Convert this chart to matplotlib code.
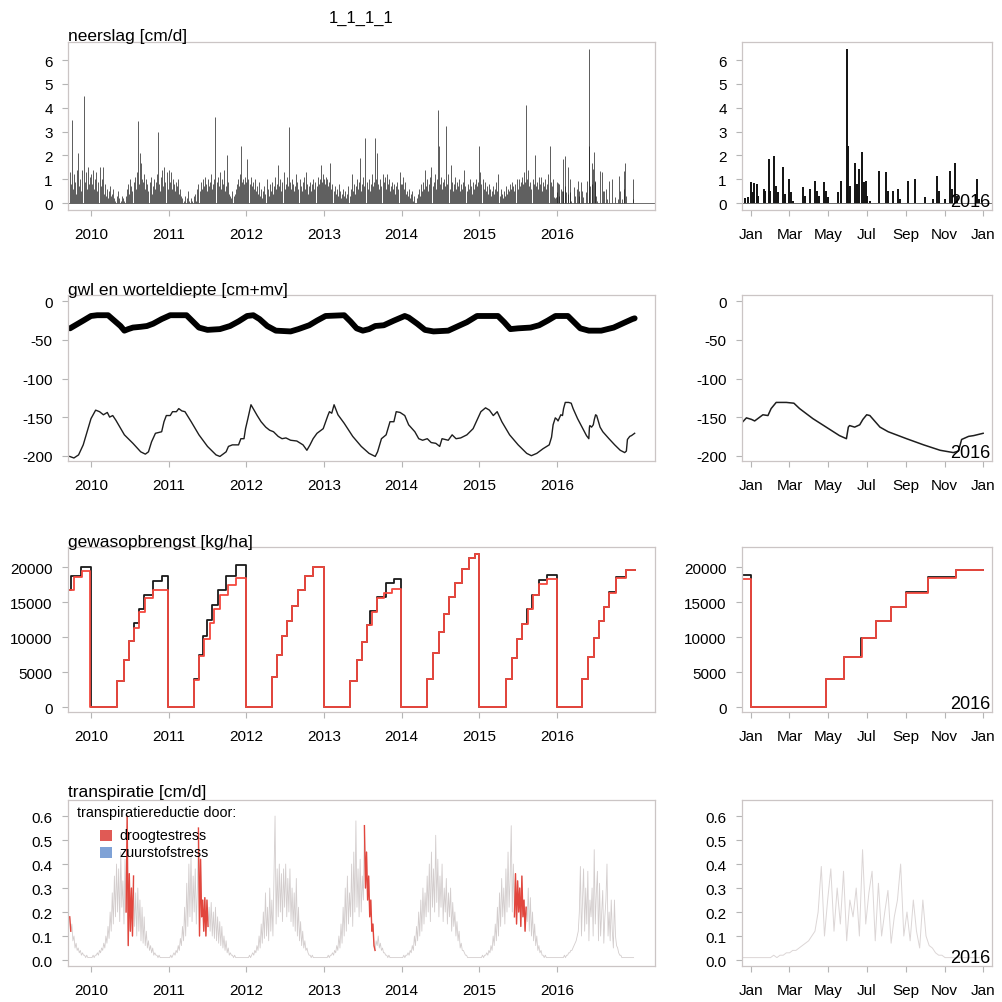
import numpy as np
import matplotlib
matplotlib.use("Agg")
import matplotlib.pyplot as plt
from matplotlib.patches import Rectangle

plt.rcParams['font.family'] = ['Liberation Sans', 'DejaVu Sans']
plt.rcParams['axes.unicode_minus'] = False

# ------------------------------------------------------------------ data
year_ticks = [2010, 2011, 2012, 2013, 2014, 2015, 2016]
month_labels = ['Jan', 'Mar', 'May', 'Jul', 'Sep', 'Nov', 'Jan']
month_doy = [0, 60, 121, 182, 244, 305, 366]

# precipitation [cm/d], 5-day maxima (bin = 5 days from 1 Jan)
rain_2009 = [1.3, 0.8, 3.5, 0.6, 1.2, 0.9, 0.4, 1.4, 2.1, 0.7,
             1.0, 0.5, 1.4, 4.5, 0.9, 1.3, 0.6, 1.5, 0.8, 1.1]   # from bin 53
rain_2010 = [1.2, 0.8, 1.4, 0.6, 1.0, 1.3, 0.5, 0.9, 1.5, 0.7,
             1.0, 1.5, 0.4, 0.8, 0.3, 0.6, 0.2, 0.5, 0.7, 0.3,
             0.4, 0.6, 0.2, 0.1, 0.3, 0.5, 0.2, 0.0, 0.1, 0.3,
             0.2, 0.1, 0.0, 0.3, 0.6, 0.8, 0.4, 1.0, 0.7, 0.5,
             0.9, 1.1, 0.6, 1.3, 3.45, 0.8, 2.1, 1.7, 1.0, 0.9,
             1.2, 0.6, 1.0, 0.8, 0.5, 0.9, 1.1, 0.4, 0.7, 1.0,
             0.6, 0.9, 1.2, 3.0, 0.8, 0.5, 1.1, 1.4, 0.7, 1.5,
             0.9, 1.3, 0.6]
rain_2011 = [1.4, 0.9, 1.3, 0.6, 1.0, 0.8, 0.5, 0.9, 0.7, 1.0,
             0.4, 0.6, 0.3, 0.2, 0.1, 0.3, 0.0, 0.2, 0.5, 0.1,
             0.0, 0.2, 0.1, 0.0, 0.3, 0.4, 0.1, 0.6, 0.8, 0.5,
             0.9, 0.6, 1.0, 0.7, 1.1, 0.8, 0.5, 1.0, 0.7, 0.9,
             1.2, 0.6, 0.8, 1.0, 3.6, 0.9, 1.1, 0.7, 1.3, 0.6,
             1.0, 0.8, 1.4, 0.5, 0.7, 2.0, 0.9, 0.4, 0.3, 0.2,
             0.5, 0.3, 0.4, 0.6, 0.8, 1.0, 0.7, 1.2, 2.4, 0.9,
             1.0, 0.8, 1.1]
rain_2012 = [0.9, 1.85, 1.0, 0.8, 1.1, 0.7, 0.9, 0.6, 1.0, 0.5,
             0.7, 0.4, 0.9, 0.3, 0.6, 0.2, 0.5, 0.7, 0.4, 1.0,
             0.6, 0.3, 0.8, 0.5, 0.9, 0.4, 0.7, 1.1, 0.6, 0.8,
             1.6, 0.7, 1.0, 0.5, 0.9, 1.3, 0.6, 0.8, 1.1, 0.7,
             3.2, 0.9, 0.6, 1.0, 0.8, 0.5, 0.7, 1.2, 0.9, 0.6,
             1.0, 0.7, 0.5, 0.9, 1.1, 0.6, 1.3, 0.8, 0.4, 0.7,
             0.9, 0.5, 0.8, 1.0, 0.6, 0.9, 0.7, 1.1, 0.8, 1.0,
             1.6, 0.9, 1.2]
rain_2013 = [1.0, 0.8, 1.1, 1.0, 0.7, 0.9, 1.7, 0.6, 0.8, 0.5,
             0.7, 0.4, 0.6, 0.3, 0.8, 0.5, 0.2, 0.4, 0.6, 0.3,
             0.5, 0.2, 0.4, 0.7, 0.3, 0.6, 1.2, 0.5, 0.8, 0.4,
             0.7, 1.0, 0.6, 0.9, 1.9, 0.5, 0.8, 1.1, 0.7, 2.75,
             0.9, 0.6, 1.0, 0.5, 0.8, 1.2, 0.7, 0.9, 2.75, 1.0,
             2.1, 0.8, 0.6, 1.0, 0.7, 1.2, 0.9, 1.1, 0.6, 1.2,
             0.8, 1.0, 0.5, 0.7, 0.9, 0.6, 0.8, 0.4, 0.7, 0.9,
             0.6, 1.3, 0.8]
rain_2014 = [0.8, 1.1, 0.6, 0.9, 0.4, 0.5, 0.3, 0.6, 0.2, 0.4,
             0.5, 0.1, 0.3, 0.0, 0.2, 0.4, 0.6, 0.3, 0.8, 0.5,
             0.9, 0.6, 1.4, 0.7, 1.0, 0.5, 0.8, 1.1, 1.5, 0.7,
             0.9, 1.2, 0.6, 1.0, 3.9, 2.4, 0.8, 1.1, 0.6, 0.9,
             1.0, 0.7, 3.25, 0.8, 1.2, 0.6, 1.6, 0.9, 0.5, 0.8,
             1.1, 0.6, 0.9, 0.7, 1.0, 0.5, 0.8, 0.6, 0.9, 1.4,
             0.7, 0.5, 0.8, 0.6, 1.0, 0.7, 0.4, 0.9, 0.6, 0.8,
             1.0, 0.7, 0.9]
rain_2015 = [2.4, 1.3, 0.8, 1.0, 0.6, 0.9, 0.5, 0.7, 0.4, 0.8,
             0.6, 0.3, 0.5, 0.7, 0.4, 0.6, 0.9, 0.5, 1.2, 0.3,
             0.6, 0.4, 0.2, 0.5, 0.3, 0.7, 0.4, 0.6, 0.5, 0.8,
             0.6, 0.9, 0.7, 0.5, 0.8, 1.0, 0.6, 1.0, 0.7, 0.9,
             1.1, 0.8, 1.3, 0.9, 4.1, 1.0, 1.4, 0.7, 0.9, 0.6,
             1.0, 0.8, 2.0, 0.7, 0.9, 0.6, 1.1, 0.8, 1.1, 0.5,
             0.9, 0.7, 1.0, 0.6, 0.8, 1.2, 2.4, 0.9, 0.7, 1.0,
             0.25, 0.2, 0.25]
# 2016 daily rain events (day of year, cm/d)
rain16_day = [0, 2, 4, 8, 11, 19, 22, 27, 29, 36, 38, 42, 50, 53, 60, 62, 65,
              81, 84, 92, 100, 103, 106, 114, 117, 121, 137, 142, 151, 153,
              155, 163, 166, 170, 174, 177, 181, 183, 187, 202, 213, 215, 223,
              232, 235, 247, 258, 274, 286, 293, 296, 305, 314, 317, 322, 325,
              356, 359]
rain16_val = [0.87, 0.45, 0.84, 0.8, 0.3, 0.6, 0.5, 1.85, 0.5, 1.99, 0.73,
              0.45, 1.5, 0.38, 1.03, 0.45, 0.1, 0.66, 0.3, 0.6, 0.94, 0.5, 0.3,
              0.87, 0.5, 0.24, 0.45, 0.94, 6.46, 2.4, 0.73, 1.7, 0.8, 1.43,
              2.13, 0.87, 0.94, 0.3, 0.1, 1.36, 1.31, 0.5, 0.52, 0.59, 0.17,
              0.94, 1.0, 0.24, 0.17, 1.15, 0.52, 0.17, 1.36, 0.59, 1.7, 0.3,
              1.0, 0.17]

# groundwater level [cm+mv] (decimal year, value)
gwl_points = [
    (2009.726, -201), (2009.78, -203), (2009.84, -199), (2009.90, -186),
    (2009.95, -169), (2010.00, -152), (2010.06, -141), (2010.11, -143),
    (2010.16, -147), (2010.21, -144), (2010.24, -150), (2010.28, -148),
    (2010.32, -154), (2010.43, -173), (2010.54, -184), (2010.64, -195),
    (2010.70, -198), (2010.74, -195), (2010.78, -182), (2010.83, -171),
    (2010.91, -169), (2010.94, -156), (2010.97, -148), (2011.02, -148),
    (2011.05, -143), (2011.10, -143), (2011.13, -139), (2011.17, -142),
    (2011.21, -143), (2011.29, -156), (2011.39, -173), (2011.50, -188),
    (2011.61, -199), (2011.66, -201), (2011.74, -195), (2011.77, -188),
    (2011.82, -186), (2011.90, -186), (2011.93, -178), (2011.97, -178),
    (2011.99, -165), (2012.02, -152), (2012.06, -134), (2012.10, -141),
    (2012.14, -148), (2012.19, -156), (2012.25, -163), (2012.30, -167),
    (2012.35, -169), (2012.41, -175), (2012.46, -178), (2012.51, -177),
    (2012.57, -180), (2012.65, -181), (2012.73, -186), (2012.78, -193),
    (2012.82, -186), (2012.86, -178), (2012.91, -171), (2012.99, -165),
    (2013.05, -148), (2013.07, -143), (2013.10, -145), (2013.13, -134),
    (2013.18, -147), (2013.26, -158), (2013.37, -175), (2013.48, -188),
    (2013.58, -197), (2013.66, -201), (2013.69, -195), (2013.74, -178),
    (2013.80, -173), (2013.85, -156), (2013.90, -156), (2013.93, -143),
    (2013.98, -144), (2014.04, -148), (2014.09, -160), (2014.17, -169),
    (2014.22, -178), (2014.27, -180), (2014.33, -178), (2014.38, -183),
    (2014.44, -184), (2014.49, -188), (2014.52, -178), (2014.60, -180),
    (2014.65, -173), (2014.70, -178), (2014.76, -177), (2014.84, -173),
    (2014.92, -165), (2014.97, -154), (2015.02, -143), (2015.08, -138),
    (2015.13, -141), (2015.18, -148), (2015.23, -143), (2015.29, -156),
    (2015.39, -173), (2015.50, -186), (2015.61, -197), (2015.67, -200),
    (2015.74, -197), (2015.82, -191), (2015.90, -186), (2015.93, -176),
    (2015.95, -160),
]
# 2016 groundwater level (day of year, value)
gwl16_points = [
    (-8, -151), (0, -153), (5, -155), (18, -147), (26, -148), (31, -139),
    (39, -131), (55, -131), (67, -132), (76, -139), (97, -152), (118, -163),
    (139, -174), (150, -178), (153, -163), (155, -161), (163, -163),
    (171, -160), (176, -153), (182, -147), (187, -148), (203, -163),
    (216, -169), (245, -178), (272, -186), (298, -193), (319, -196),
    (327, -194), (332, -179), (343, -175), (351, -174), (366, -171),
]
# root depth [cm+mv] (decimal year, value)
root_points = [
    (2009.73, -35), (2009.90, -25), (2010.00, -19), (2010.08, -18),
    (2010.22, -18), (2010.30, -25), (2010.38, -32), (2010.43, -38),
    (2010.48, -36), (2010.54, -34), (2010.64, -33), (2010.72, -32),
    (2010.80, -29), (2010.91, -23), (2011.02, -18), (2011.23, -18),
    (2011.31, -26), (2011.39, -34), (2011.50, -37), (2011.66, -36),
    (2011.79, -32), (2011.90, -26), (2012.01, -19), (2012.09, -18),
    (2012.17, -23), (2012.27, -32), (2012.38, -38), (2012.57, -39),
    (2012.67, -36), (2012.81, -31), (2012.91, -25), (2013.02, -19),
    (2013.26, -18), (2013.34, -26), (2013.42, -35), (2013.50, -38),
    (2013.58, -36), (2013.66, -32), (2013.77, -31), (2013.90, -25),
    (2014.04, -19), (2014.09, -21), (2014.20, -29), (2014.30, -37),
    (2014.41, -39), (2014.60, -38), (2014.73, -32), (2014.84, -27),
    (2014.97, -19), (2015.24, -19), (2015.32, -27), (2015.40, -36),
    (2015.50, -35), (2015.66, -34), (2015.77, -31), (2015.88, -25),
    (2015.98, -19), (2016.14, -19), (2016.22, -27), (2016.30, -35),
    (2016.41, -38), (2016.57, -38), (2016.73, -34), (2016.86, -28),
    (2016.97, -23), (2017.00, -22),
]

# crop yield [kg/ha] step series (decimal year, value from that moment)
yield_pot = [
    (2009.726, 16700), (2009.747, 18800), (2009.870, 20100), (2010.000, 0),
    (2010.340, 3800), (2010.420, 6800), (2010.484, 9500), (2010.553, 12100),
    (2010.618, 14100), (2010.687, 16000), (2010.804, 18100), (2010.911, 18700),
    (2010.991, 0),
    (2011.328, 4000), (2011.392, 7500), (2011.446, 10200), (2011.499, 12500),
    (2011.553, 14600), (2011.633, 16700), (2011.739, 18800), (2011.873, 20400),
    (2011.990, 0),
    (2012.327, 4300), (2012.396, 7500), (2012.460, 10200), (2012.530, 12400),
    (2012.594, 14500), (2012.663, 16700), (2012.754, 18700), (2012.861, 20100),
    (2012.994, 0),
    (2013.341, 3700), (2013.421, 6800), (2013.490, 9400), (2013.554, 11700),
    (2013.597, 13700), (2013.688, 15700), (2013.794, 17700), (2013.901, 18400),
    (2013.997, 0),
    (2014.328, 4000), (2014.408, 7800), (2014.478, 10700), (2014.542, 13400),
    (2014.611, 15700), (2014.691, 17700), (2014.782, 19700), (2014.862, 21400),
    (2014.942, 21900), (2014.996, 0),
    (2015.341, 4000), (2015.421, 7100), (2015.490, 9800), (2015.544, 11900),
    (2015.608, 14100), (2015.672, 16100), (2015.768, 18200), (2015.875, 18900),
    (2016.000, 0),
    (2016.322, 4050), (2016.399, 7250), (2016.473, 9950), (2016.537, 12300),
    (2016.601, 14400), (2016.669, 16450), (2016.760, 18550), (2016.883, 19600),
    (2017.000, 19600),
]
yield_act = [
    (2009.726, 16700), (2009.779, 18600), (2009.886, 19500), (2009.993, 0),
    (2010.340, 3800), (2010.420, 6800), (2010.484, 9500), (2010.553, 11400),
    (2010.618, 13600), (2010.698, 15600), (2010.804, 16700), (2010.991, 0),
    (2011.328, 3900), (2011.392, 7400), (2011.456, 9700), (2011.526, 12000),
    (2011.590, 14000), (2011.659, 16000), (2011.766, 17500), (2011.873, 18500),
    (2011.990, 0),
    (2012.327, 4300), (2012.396, 7500), (2012.460, 10200), (2012.530, 12400),
    (2012.594, 14500), (2012.663, 16700), (2012.754, 18700), (2012.861, 20000),
    (2012.994, 0),
    (2013.341, 3700), (2013.421, 6800), (2013.490, 9400), (2013.554, 11700),
    (2013.624, 13600), (2013.688, 15600), (2013.768, 16400), (2013.874, 16900),
    (2013.997, 0),
    (2014.328, 4000), (2014.408, 7800), (2014.478, 10700), (2014.542, 13400),
    (2014.611, 15700), (2014.691, 17700), (2014.782, 19700), (2014.862, 21400),
    (2014.942, 21900), (2014.996, 0),
    (2015.341, 4000), (2015.421, 7100), (2015.490, 9800), (2015.554, 11900),
    (2015.624, 14000), (2015.688, 16000), (2015.768, 17600), (2015.875, 18400),
    (2015.996, 0),
    (2016.322, 4050), (2016.399, 7250), (2016.475, 9900), (2016.537, 12300),
    (2016.601, 14400), (2016.669, 16400), (2016.760, 18500), (2016.883, 19600),
    (2017.000, 19600),
]

# potential transpiration [cm/d], 5-day values
transp_2009 = [0.18, 0.12, 0.15, 0.08, 0.10, 0.05, 0.07, 0.04, 0.05, 0.03,
               0.04, 0.02, 0.03, 0.02, 0.02, 0.01, 0.02, 0.01, 0.01, 0.01]  # from bin 53
transp_2010 = [0.01, 0.01, 0.02, 0.01, 0.02, 0.02, 0.03, 0.02, 0.04, 0.03,
               0.05, 0.04, 0.07, 0.05, 0.10, 0.07, 0.14, 0.09, 0.20, 0.12,
               0.28, 0.15, 0.35, 0.18, 0.40, 0.20, 0.38, 0.16, 0.45, 0.22,
               0.33, 0.15, 0.42, 0.20, 0.60, 0.06, 0.36, 0.12, 0.30, 0.10,
               0.35, 0.14, 0.28, 0.10, 0.30, 0.12, 0.25, 0.08, 0.22, 0.07,
               0.18, 0.06, 0.12, 0.05, 0.08, 0.04, 0.06, 0.03, 0.05, 0.02,
               0.03, 0.02, 0.02, 0.01, 0.02, 0.01, 0.01, 0.01, 0.01, 0.01,
               0.01, 0.01, 0.01]
transp_2011 = [0.01, 0.01, 0.02, 0.01, 0.02, 0.03, 0.02, 0.04, 0.03, 0.06,
               0.04, 0.09, 0.06, 0.14, 0.08, 0.22, 0.10, 0.32, 0.14, 0.40,
               0.18, 0.44, 0.16, 0.35, 0.20, 0.38, 0.15, 0.30, 0.55, 0.10,
               0.42, 0.18, 0.25, 0.12, 0.26, 0.10, 0.25, 0.14, 0.22, 0.12,
               0.24, 0.10, 0.20, 0.09, 0.22, 0.08, 0.18, 0.07, 0.16, 0.06,
               0.14, 0.05, 0.10, 0.04, 0.08, 0.03, 0.05, 0.02, 0.03, 0.02,
               0.02, 0.01, 0.02, 0.01, 0.01, 0.01, 0.01, 0.01, 0.01, 0.01,
               0.01, 0.01, 0.01]
transp_2012 = [0.01, 0.01, 0.01, 0.02, 0.01, 0.02, 0.03, 0.02, 0.04, 0.03,
               0.06, 0.04, 0.10, 0.05, 0.15, 0.07, 0.20, 0.09, 0.28, 0.10,
               0.22, 0.08, 0.30, 0.12, 0.25, 0.10, 0.35, 0.60, 0.15, 0.38,
               0.18, 0.40, 0.20, 0.36, 0.16, 0.38, 0.22, 0.40, 0.18, 0.34,
               0.20, 0.38, 0.16, 0.30, 0.14, 0.28, 0.12, 0.34, 0.10, 0.22,
               0.08, 0.16, 0.06, 0.12, 0.05, 0.08, 0.04, 0.05, 0.03, 0.02,
               0.02, 0.01, 0.02, 0.01, 0.01, 0.01, 0.01, 0.01, 0.01, 0.01,
               0.01, 0.01, 0.01]
transp_2013 = [0.01, 0.01, 0.01, 0.01, 0.02, 0.01, 0.02, 0.02, 0.03, 0.02,
               0.04, 0.03, 0.06, 0.04, 0.10, 0.05, 0.15, 0.07, 0.22, 0.10,
               0.30, 0.12, 0.35, 0.15, 0.28, 0.18, 0.40, 0.14, 0.45, 0.20,
               0.58, 0.22, 0.38, 0.18, 0.42, 0.20, 0.35, 0.25, 0.56, 0.30,
               0.45, 0.25, 0.35, 0.18, 0.25, 0.12, 0.15, 0.06, 0.04, 0.08,
               0.06, 0.10, 0.05, 0.07, 0.04, 0.05, 0.03, 0.03, 0.02, 0.02,
               0.01, 0.02, 0.01, 0.01, 0.01, 0.01, 0.01, 0.01, 0.01, 0.01,
               0.01, 0.01, 0.01]
transp_2014 = [0.01, 0.01, 0.02, 0.01, 0.02, 0.02, 0.03, 0.02, 0.04, 0.03,
               0.06, 0.04, 0.10, 0.06, 0.14, 0.08, 0.20, 0.10, 0.25, 0.12,
               0.30, 0.15, 0.28, 0.18, 0.35, 0.20, 0.40, 0.16, 0.45, 0.22,
               0.38, 0.20, 0.52, 0.24, 0.42, 0.18, 0.35, 0.22, 0.40, 0.16,
               0.30, 0.20, 0.34, 0.15, 0.28, 0.18, 0.30, 0.12, 0.24, 0.14,
               0.20, 0.10, 0.16, 0.08, 0.12, 0.05, 0.07, 0.04, 0.04, 0.03,
               0.02, 0.02, 0.01, 0.01, 0.01, 0.01, 0.01, 0.01, 0.01, 0.01,
               0.01, 0.01, 0.01]
transp_2015 = [0.01, 0.01, 0.01, 0.02, 0.01, 0.02, 0.02, 0.03, 0.02, 0.04,
               0.03, 0.06, 0.04, 0.10, 0.06, 0.15, 0.08, 0.22, 0.10, 0.28,
               0.14, 0.34, 0.18, 0.30, 0.15, 0.38, 0.20, 0.45, 0.22, 0.35,
               0.56, 0.20, 0.40, 0.18, 0.36, 0.15, 0.33, 0.20, 0.30, 0.14,
               0.35, 0.18, 0.25, 0.12, 0.22, 0.16, 0.30, 0.12, 0.26, 0.10,
               0.20, 0.08, 0.15, 0.06, 0.10, 0.04, 0.06, 0.03, 0.04, 0.02,
               0.02, 0.01, 0.02, 0.01, 0.01, 0.01, 0.01, 0.01, 0.01, 0.01,
               0.01, 0.01, 0.01]
transp_2016 = [0.01, 0.01, 0.01, 0.01, 0.01, 0.01, 0.01, 0.02, 0.01, 0.02,
               0.02, 0.03, 0.03, 0.04, 0.04, 0.05, 0.06, 0.07, 0.08, 0.10,
               0.12, 0.20, 0.39, 0.10, 0.25, 0.38, 0.12, 0.30, 0.15, 0.37,
               0.08, 0.25, 0.18, 0.30, 0.10, 0.46, 0.15, 0.28, 0.37, 0.08,
               0.32, 0.10, 0.20, 0.29, 0.07, 0.18, 0.25, 0.40, 0.10, 0.20,
               0.08, 0.25, 0.12, 0.05, 0.25, 0.10, 0.06, 0.05, 0.03, 0.02,
               0.02, 0.01, 0.01, 0.01, 0.01, 0.01, 0.01, 0.01, 0.01, 0.01,
               0.01, 0.01, 0.01]
# periods with transpiration reduction by drought stress (decimal years)
drought_periods = [(2009.72, 2009.745), (2010.445, 2010.56), (2011.38, 2011.51),
                   (2013.515, 2013.66), (2015.45, 2015.61)]

# ------------------------------------------------------------------ assemble
def five_day(year, values, start_bin=0):
    return year + (start_bin + np.arange(len(values))) * 5.0 / 365.0

rain_t = np.concatenate([five_day(2009, rain_2009, 53)] +
                        [five_day(y, v) for y, v in zip(range(2010, 2016),
                         [rain_2010, rain_2011, rain_2012, rain_2013, rain_2014, rain_2015])] +
                        [2016 + np.array(rain16_day) / 366.0])
rain_v = np.concatenate([rain_2009, rain_2010, rain_2011, rain_2012, rain_2013,
                         rain_2014, rain_2015, rain16_val])

gwl_t = np.array([p[0] for p in gwl_points] + [2016 + d / 366.0 for d, _ in gwl16_points])
gwl_v = np.array([p[1] for p in gwl_points] + [v for _, v in gwl16_points])
root_t = np.array([p[0] for p in root_points])
root_v = np.array([p[1] for p in root_points])
ypot_t = np.array([p[0] for p in yield_pot]); ypot_v = np.array([p[1] for p in yield_pot])
yact_t = np.array([p[0] for p in yield_act]); yact_v = np.array([p[1] for p in yield_act])

tr_t = np.concatenate([five_day(2009, transp_2009, 53)] +
                      [five_day(y, v) for y, v in zip(range(2010, 2017),
                       [transp_2010, transp_2011, transp_2012, transp_2013,
                        transp_2014, transp_2015, transp_2016])])
tr_v = np.concatenate([transp_2009, transp_2010, transp_2011, transp_2012,
                       transp_2013, transp_2014, transp_2015, transp_2016])

# ------------------------------------------------------------------ figure
W, H = 1002, 1003
fig = plt.figure(figsize=(W / 100, H / 100), dpi=100)
fig.patch.set_facecolor('white')

rows_px = [(43, 211), (296, 462), (548, 713), (801, 967)]
left_px = (68, 655)
right_px = (742, 992)

def add_ax(xpx, ypx):
    x0, x1 = xpx
    y0, y1 = ypx
    return fig.add_axes([x0 / W, 1 - y1 / H, (x1 - x0) / W, (y1 - y0) / H])

axL = [add_ax(left_px, r) for r in rows_px]
axR = [add_ax(right_px, r) for r in rows_px]

xlimL = (2009.704, 2017.262)
xlimR = (2016 - 15 / 366.0, 2017 + 14 / 366.0)
ylims = [(-0.29, 6.755), (-206.9, 8.2), (-670, 22900), (-0.025, 0.667)]
yticks = [[0, 1, 2, 3, 4, 5, 6],
          [0, -50, -100, -150, -200],
          [0, 5000, 10000, 15000, 20000],
          [0.0, 0.1, 0.2, 0.3, 0.4, 0.5, 0.6]]
ylabels = [[str(v) for v in yticks[0]],
           [str(v) for v in yticks[1]],
           [str(v) for v in yticks[2]],
           ['%.1f' % v for v in yticks[3]]]

box_col = '#cbc5c5'
tick_col = '#b5b5b5'
for i in range(4):
    for ax, right in ((axL[i], False), (axR[i], True)):
        ax.set_ylim(*ylims[i])
        ax.set_yticks(yticks[i])
        ax.set_yticklabels(ylabels[i])
        if right:
            ax.set_xlim(*xlimR)
            ax.set_xticks([2016 + d / 366.0 for d in month_doy])
            ax.set_xticklabels(month_labels)
            ax.text(0.993, 0.022, '2016', transform=ax.transAxes, ha='right',
                    va='baseline', fontsize=13, color='black')
        else:
            ax.set_xlim(*xlimL)
            ax.set_xticks(year_ticks)
            ax.set_xticklabels([str(y) for y in year_ticks])
        for s in ax.spines.values():
            s.set_color(box_col)
            s.set_linewidth(0.9)
        ax.tick_params(axis='both', direction='out', length=4, width=0.8,
                       color=tick_col, labelsize=11, labelcolor='black')
        ax.tick_params(axis='x', pad=8)
        ax.tick_params(axis='y', pad=7)

# row 1: precipitation
axL[0].vlines(rain_t, 0, rain_v, color='#1c1c1c', lw=0.5)
axR[0].vlines(rain_t, 0, rain_v, color='#111111', lw=1.4)
axL[0].axhline(0, color='#555555', lw=0.6)
axR[0].axhline(0, color='#555555', lw=0.6)

# row 2: groundwater level + root depth
axL[1].plot(root_t, root_v, color='black', lw=4.2, solid_capstyle='round',
            solid_joinstyle='round')
axL[1].plot(gwl_t, gwl_v, color='#1e1e1e', lw=1.0)
axR[1].plot(gwl_t, gwl_v, color='#1e1e1e', lw=1.1)

# row 3: crop yield
red_col = '#f5493f'
for ax in (axL[2], axR[2]):
    ax.step(ypot_t, ypot_v, where='post', color='#1a1a1a', lw=1.3)
    ax.step(yact_t, yact_v, where='post', color=red_col, lw=1.3)

# row 4: transpiration
for ax, col, lw in ((axL[3], '#d3cdcd', 0.6), (axR[3], '#dcd6d6', 0.7)):
    ax.plot(tr_t, tr_v, color=col, lw=lw)
    for a, b in drought_periods:
        m = (tr_t >= a) & (tr_t <= b)
        ax.plot(tr_t[m], tr_v[m], color='#e2463d', lw=1.0)

# legend (row 4, left)
axl = axL[3]
axl.text(0.0153, 0.928, 'transpiratiereductie door:', transform=axl.transAxes,
         ha='left', va='center', fontsize=10.3)
axl.add_patch(Rectangle((0.0545, 0.753), 0.0205, 0.066, transform=axl.transAxes,
                        facecolor='#e05a55', edgecolor='none'))
axl.add_patch(Rectangle((0.0545, 0.651), 0.0205, 0.066, transform=axl.transAxes,
                        facecolor='#7fa2d6', edgecolor='none'))
axl.text(0.0877, 0.789, 'droogtestress', transform=axl.transAxes,
         ha='left', va='center', fontsize=10.3)
axl.text(0.0877, 0.687, 'zuurstofstress', transform=axl.transAxes,
         ha='left', va='center', fontsize=10.3)

# titles
fig.text(361 / W, 1 - 18 / H, '1_1_1_1', ha='center', va='center', fontsize=12)
titles = ['neerslag [cm/d]', 'gwl en worteldiepte [cm+mv]',
          'gewasopbrengst [kg/ha]', 'transpiratie [cm/d]']
title_y = [37, 290, 542, 793]
for t, y in zip(titles, title_y):
    fig.text(68 / W, 1 - y / H, t, ha='left', va='center', fontsize=12.5)

fig.savefig('out.png', dpi=100, facecolor='white')
